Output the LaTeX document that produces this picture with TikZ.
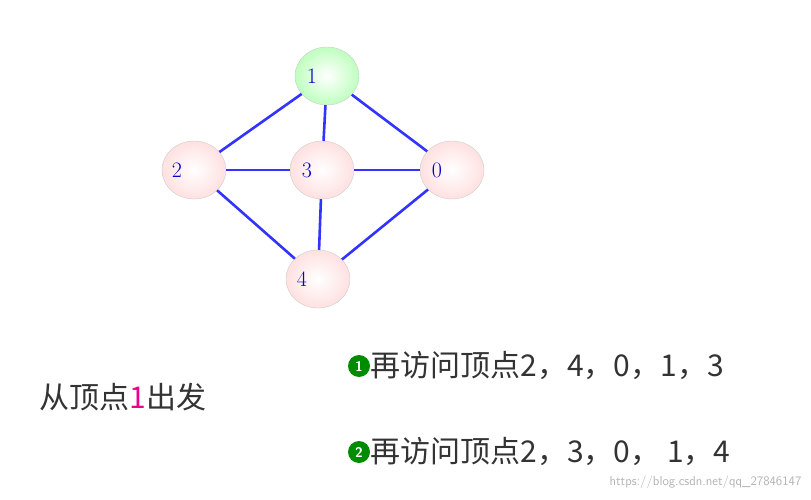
\documentclass[tikz,border=0pt]{standalone}
\usepackage{fontspec}
\newfontfamily\cjk{Noto Sans CJK SC}
\usetikzlibrary{shapes.geometric}
\begin{document}
\begin{tikzpicture}[x=1pt,y=-1pt,
  vnode/.style={ellipse, draw=gray!40, inner color=white, outer color=red!12, minimum width=64pt, minimum height=58pt, text=blue!80!black, font=\fontsize{22}{24}\selectfont},
  startnode/.style={vnode, outer color=green!25},
  link/.style={draw=blue!80, line width=2.6pt},
  bullet/.style={circle, fill=green!55!black, text=white, inner sep=0pt, minimum size=22pt, font=\sffamily\bfseries\fontsize{14}{16}\selectfont}]
\useasboundingbox (0,0) rectangle (811,500);
\node[startnode] (v1) at (327,76) {\hspace*{-30pt}1};
\node[vnode] (v2) at (194,170) {\hspace*{-34pt}2};
\node[vnode] (v3) at (322,170) {\hspace*{-30pt}3};
\node[vnode] (v0) at (452,170) {\hspace*{-30pt}0};
\node[vnode] (v4) at (318,279) {\hspace*{-32pt}4};
\draw[link] (v1) -- (v2);
\draw[link] (v1) -- (v3);
\draw[link] (v1) -- (v0);
\draw[link] (v2) -- (v3);
\draw[link] (v3) -- (v0);
\draw[link] (v3) -- (v4);
\draw[link] (v2) -- (v4);
\draw[link] (v0) -- (v4);
\node[anchor=west, font=\cjk\fontsize{30}{34}\selectfont, text=black!80] (start) at (36,397) {从顶点\textcolor{magenta}{1}出发};
\node[bullet] (b1) at (359,366) {1};
\node[anchor=west, font=\cjk\fontsize{30}{34}\selectfont, text=black!80] (seq1) at (367,366) {再访问顶点2，4，0，1，3};
\node[bullet] (b2) at (359,452) {2};
\node[anchor=west, font=\cjk\fontsize{30}{34}\selectfont, text=black!80] (seq2) at (367,452) {再访问顶点2，3，0， 1，4};
\node[anchor=east, font=\sffamily\fontsize{13}{15}\selectfont, text=gray!60] (mark) at (805,482) {https://blog.csdn.net/qq\_27846147};
\end{tikzpicture}
\end{document}
